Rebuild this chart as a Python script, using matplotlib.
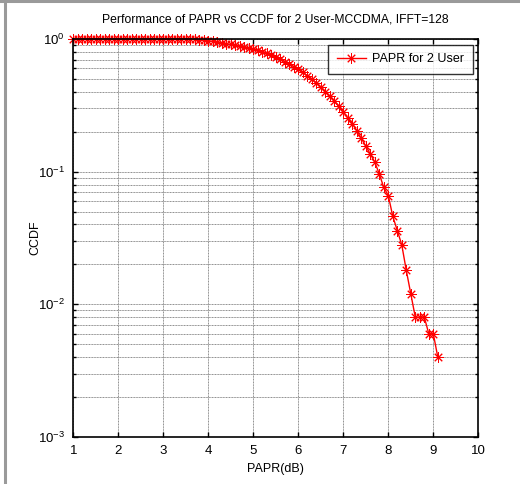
import matplotlib
matplotlib.use("Agg")
import matplotlib.pyplot as plt
from matplotlib.lines import Line2D
from matplotlib.ticker import LogLocator, NullFormatter

plt.rcParams['font.family'] = ['Liberation Sans', 'DejaVu Sans']
plt.rcParams['mathtext.fontset'] = 'custom'
plt.rcParams['mathtext.rm'] = 'Liberation Sans'
plt.rcParams['axes.unicode_minus'] = False

papr_db = [round(1.0 + 0.1 * i, 1) for i in range(82)]
ccdf = [1.000] * 26 + [
    0.996, 0.994, 0.988, 0.978, 0.968, 0.958, 0.946, 0.934, 0.922, 0.910,
    0.898, 0.884, 0.870, 0.856, 0.842, 0.822, 0.800, 0.778, 0.754, 0.728,
    0.702, 0.676, 0.648, 0.620, 0.590, 0.560, 0.528, 0.498, 0.466, 0.434,
    0.402, 0.370, 0.340, 0.310, 0.282, 0.254, 0.230, 0.204, 0.178, 0.156,
    0.136, 0.118, 0.096, 0.076, 0.066, 0.046, 0.036, 0.028, 0.018, 0.012,
    0.008, 0.008, 0.008, 0.006, 0.006, 0.004,
]

title = "Performance of PAPR vs CCDF for 2 User-MCCDMA, IFFT=128"
xlabel = "PAPR(dB)"
ylabel = "CCDF"
legend_label = "PAPR for 2 User"
xticks = list(range(1, 11))

fig = plt.figure(figsize=(5.2, 4.84), dpi=100)
ax = fig.add_axes([73.3 / 520, 1 - 437 / 484, (478.3 - 73.3) / 520, (437 - 39) / 484])

ax.semilogy(papr_db, ccdf, color='red', linestyle='-', linewidth=1.0,
            marker=(8, 2, 0), markersize=7.5, markeredgewidth=0.7,
            label=legend_label, clip_on=False)

ax.set_xlim(1, 10)
ax.set_ylim(1e-3, 1)
ax.set_xticks(xticks)
ax.set_xticklabels([str(t) for t in xticks])
ax.yaxis.set_major_locator(LogLocator(base=10, numticks=10))
ax.yaxis.set_minor_locator(LogLocator(base=10, subs=range(2, 10), numticks=20))
ax.yaxis.set_minor_formatter(NullFormatter())

grid_kw = dict(color='#8a8a8a', linestyle=(0, (1, 0.6)), linewidth=0.7)
ax.grid(True, which='major', axis='both', **grid_kw)
ax.grid(True, which='minor', axis='y', **grid_kw)
ax.set_axisbelow(True)

ax.tick_params(which='both', direction='in', top=True, right=True,
               labelsize=9.5, width=1.0, colors='black')
ax.tick_params(which='major', length=3.5, pad=6)
ax.tick_params(which='minor', length=2)
for s in ax.spines.values():
    s.set_linewidth(1.2)

ax.set_title(title, fontsize=8.7, pad=12)
ax.set_xlabel(xlabel, fontsize=9, labelpad=4)
ax.set_ylabel(ylabel, fontsize=9)
ax.yaxis.set_label_coords((41 - 73.3) / 405, 0.5)

leg = ax.legend(loc='upper right', fontsize=9, frameon=True, fancybox=False,
                edgecolor='black', borderaxespad=0.45, handlelength=2.3,
                handletextpad=0.5, borderpad=0.7)
leg.get_frame().set_linewidth(1.0)

fig.add_artist(Line2D([4.5 / 520, 4.5 / 520], [0, 1], transform=fig.transFigure,
                      color='#9a9a9a', linewidth=2.2))
fig.add_artist(Line2D([0, 1], [1 - 1 / 484, 1 - 1 / 484], transform=fig.transFigure,
                      color='#9a9a9a', linewidth=2.2))

fig.savefig("out.png", dpi=100)
